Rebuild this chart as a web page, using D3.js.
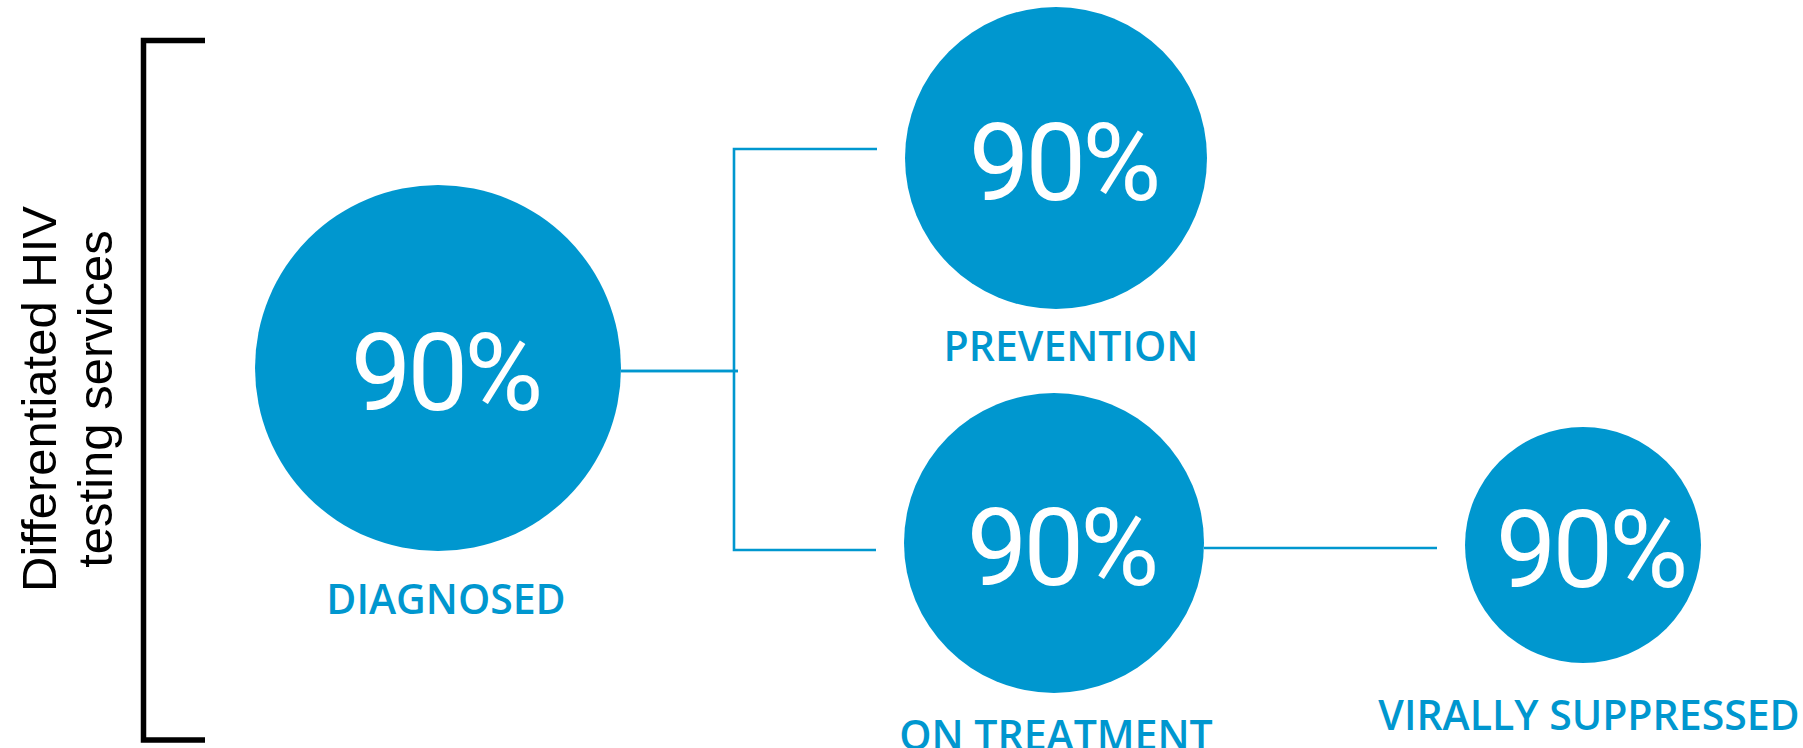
<!DOCTYPE html>
<html>
<head>
<meta charset="utf-8">
<script src="https://cdn.jsdelivr.net/npm/d3@7"></script>
<style>
  html, body { margin: 0; padding: 0; background: #fff; }
  svg { display: block; }
  .node-value { font-family: Roboto, "Open Sans", sans-serif; font-weight: 400; fill: #fff; }
  .node-label { font-family: "Open Sans", Lato, sans-serif; font-weight: 600; fill: #0097cf; }
  .bracket-label { font-family: "Liberation Sans", Arial, sans-serif; fill: #000; }
</style>
</head>
<body>
<svg id="chart"></svg>
<script>
// cascade stages and their values
const stages = ['DIAGNOSED', 'PREVENTION', 'ON TREATMENT', 'VIRALLY SUPPRESSED'];
const values = [90, 90, 90, 90];
const links  = [
  ['DIAGNOSED', 'PREVENTION'],
  ['DIAGNOSED', 'ON TREATMENT'],
  ['ON TREATMENT', 'VIRALLY SUPPRESSED']
];
const bracketLines = ['Differentiated HIV', 'testing services'];

// layout (screen space)
const W = 1803, H = 748;
const col = d3.scaleOrdinal().domain(stages).range([438, 1056, 1054, 1583]);
const row = d3.scaleOrdinal().domain(stages).range([368, 158, 543, 545]);
const rad = d3.scaleOrdinal().domain(stages).range([183, 151, 150, 118]);
const labelDx = d3.scaleOrdinal().domain(stages).range([8, 15, 2, 6]);
const labelY  = d3.scaleOrdinal().domain(stages).range([614, 361, 750, 730]);
const linkY   = d3.scaleOrdinal().domain(stages).range([371, 149, 550, 548]);
const elbowX = 734, gap = 28;
const blue = '#0097cf';

const svg = d3.select('#chart').attr('width', W).attr('height', H);

// Bracket
const br = { x: 143.5, top: 40.5, bottom: 740, arm: 205 };
svg.append('path')
  .attr('d', `M${br.arm},${br.top}H${br.x}V${br.bottom}H${br.arm}`)
  .attr('fill', 'none').attr('stroke', '#000').attr('stroke-width', 5.5);

const bl = svg.append('text').attr('class', 'bracket-label')
  .attr('transform', 'translate(56,399) rotate(-90)')
  .attr('text-anchor', 'middle').attr('font-size', 49);
bracketLines.forEach((t, i) => {
  bl.append('tspan').attr('x', 0).attr('y', i * 56).text(t);
});

// Connectors
const lg = svg.append('g').attr('fill', 'none').attr('stroke', blue).attr('stroke-width', 2.6);
links.forEach(([s, t]) => {
  const x0 = col(s) + rad(s);
  const x1 = col(t) - rad(t) - gap;
  if (s === 'DIAGNOSED') {
    lg.append('path').attr('d', `M${x0},${linkY(s)}H${elbowX + 4}`);
    lg.append('path').attr('d', `M${elbowX},${linkY(s)}V${linkY(t)}H${x1}`);
  } else {
    lg.append('path').attr('d', `M${x0},${linkY(t)}H${x1}`);
  }
});

// Nodes
const node = svg.selectAll('g.node').data(stages).join('g')
  .attr('class', 'node')
  .attr('transform', (d) => `translate(${col(d)},${row(d)})`);

node.append('circle').attr('r', (d) => rad(d)).attr('fill', blue);

node.append('text').attr('class', 'node-value')
  .attr('text-anchor', 'middle')
  .attr('x', 7)
  .attr('y', 42)
  .attr('font-size', 108)
  .attr('letter-spacing', -4)
  .text((d, i) => `${values[i]}%`);

node.append('text').attr('class', 'node-label')
  .attr('text-anchor', 'middle')
  .attr('x', (d) => labelDx(d))
  .attr('y', (d) => labelY(d) - row(d))
  .attr('font-size', 41)
  .text((d) => d);
</script>
</body>
</html>
